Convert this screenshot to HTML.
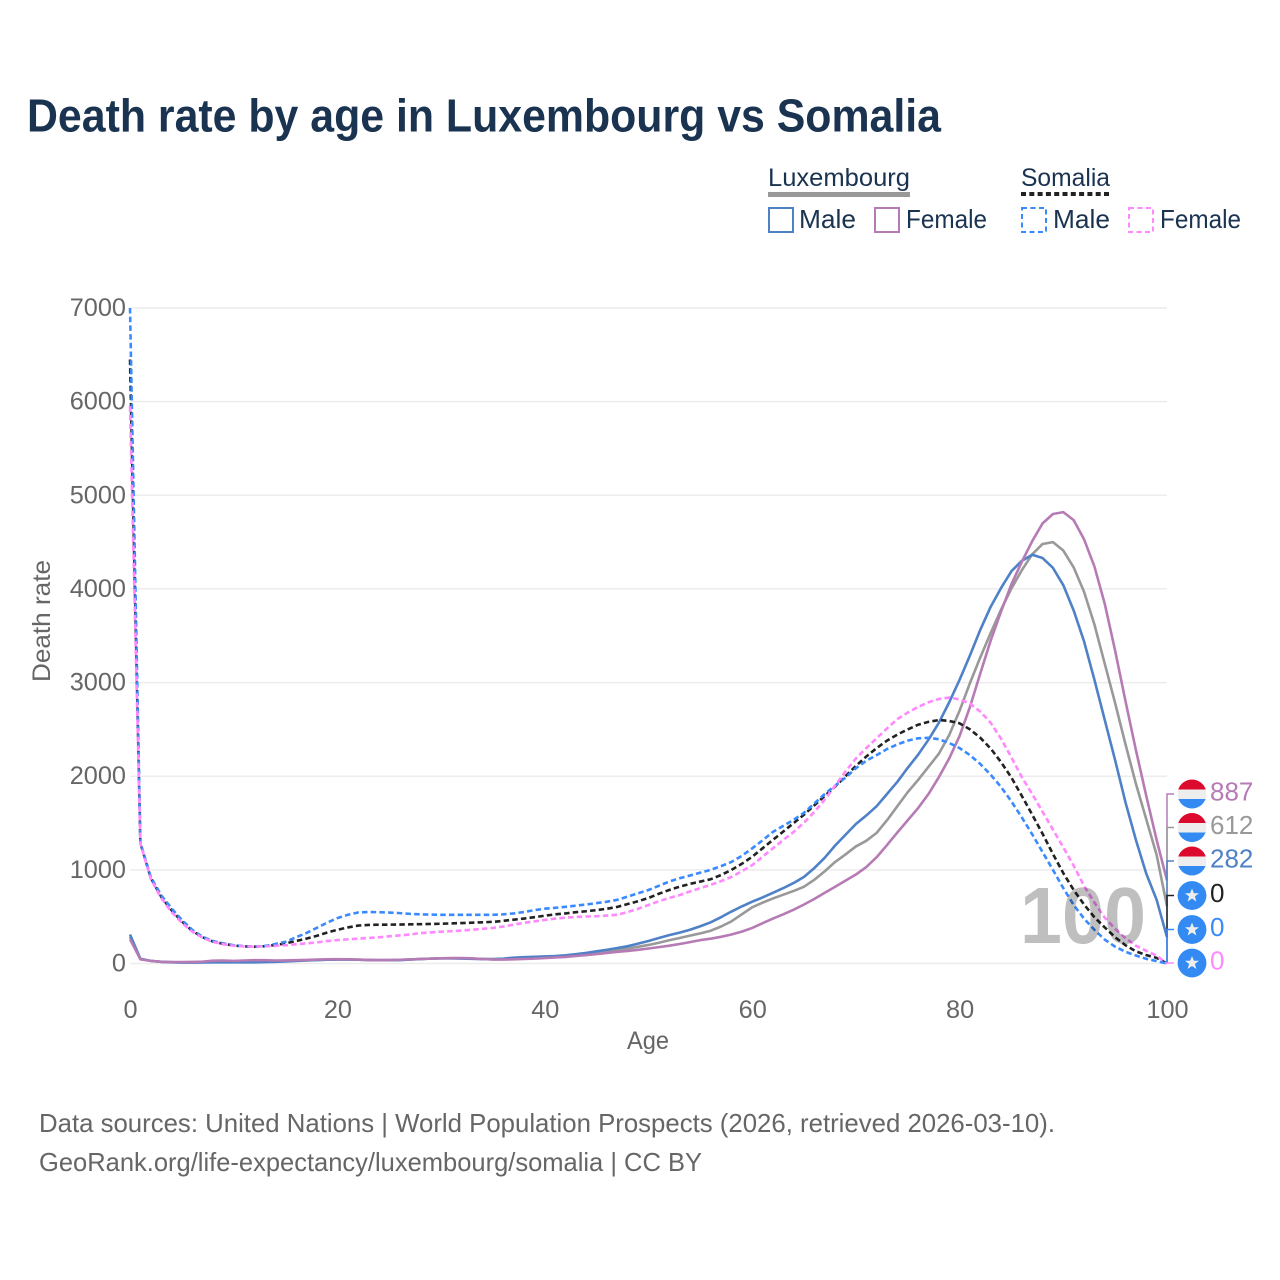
<!DOCTYPE html>
<html lang="en">
<head>
<meta charset="utf-8">
<title>Death rate by age in Luxembourg vs Somalia</title>
<style>
html,body{margin:0;padding:0;background:#fff;width:1280px;height:1280px;overflow:hidden}
svg{display:block}
text{font-family:"Liberation Sans",sans-serif}
</style>
</head>
<body>
<svg id="chart" width="1280" height="1280" viewBox="0 0 1280 1280" xmlns="http://www.w3.org/2000/svg">
<rect width="1280" height="1280" fill="#fff"/>
<text x="27" y="131.5" font-size="46" font-weight="700" fill="#1a3350" textLength="914" lengthAdjust="spacingAndGlyphs">Death rate by age in Luxembourg vs Somalia</text>

<g>
<text x="768" y="186" font-size="25" fill="#1a3350" textLength="142" lengthAdjust="spacingAndGlyphs">Luxembourg</text>
<rect x="768" y="192" width="142" height="5" fill="#999"/>
<text x="1021" y="186" font-size="25" fill="#1a3350" textLength="89" lengthAdjust="spacingAndGlyphs">Somalia</text>
<line x1="1021" y1="194" x2="1110" y2="194" stroke="#222" stroke-width="4" stroke-dasharray="5 3.3"/>
<g>
<rect x="769" y="208" width="24" height="24" fill="none" stroke="#4f81c7" stroke-width="2"/>
<text x="799" y="228" font-size="26" fill="#1a3350" textLength="57" lengthAdjust="spacingAndGlyphs">Male</text>
</g>
<g>
<rect x="875" y="208" width="24" height="24" fill="none" stroke="#b67bb5" stroke-width="2"/>
<text x="906" y="228" font-size="26" fill="#1a3350" textLength="81" lengthAdjust="spacingAndGlyphs">Female</text>
</g>
<g>
<rect x="1022" y="208" width="24" height="24" fill="none" stroke="#3a8aff" stroke-width="2" stroke-dasharray="5 3.5"/>
<text x="1053" y="228" font-size="26" fill="#1a3350" textLength="57" lengthAdjust="spacingAndGlyphs">Male</text>
</g>
<g>
<rect x="1129" y="208" width="24" height="24" fill="none" stroke="#ff88ff" stroke-width="2" stroke-dasharray="5 3.5"/>
<text x="1160" y="228" font-size="26" fill="#1a3350" textLength="81" lengthAdjust="spacingAndGlyphs">Female</text>
</g>
</g>

<g id="grid"></g>
<g id="yticks"></g>
<g id="xticks"></g>
<g id="series"></g>
<text x="1083" y="943" font-size="80" font-weight="700" fill="#000" fill-opacity="0.25" text-anchor="middle" textLength="126" lengthAdjust="spacingAndGlyphs">100</text>
<g id="endlabels"></g>

<text transform="translate(50 621) rotate(-90)" font-size="25" fill="#666" text-anchor="middle" textLength="122" lengthAdjust="spacingAndGlyphs">Death rate</text>
<text x="648" y="1049" font-size="25" fill="#666" text-anchor="middle" textLength="42" lengthAdjust="spacingAndGlyphs">Age</text>

<text x="39" y="1132" font-size="26" fill="#666" textLength="1016" lengthAdjust="spacingAndGlyphs">Data sources: United Nations | World Population Prospects (2026, retrieved 2026-03-10).</text>
<text x="39" y="1171" font-size="26" fill="#666" textLength="663" lengthAdjust="spacingAndGlyphs">GeoRank.org/life-expectancy/luxembourg/somalia | CC BY</text>
</svg>

<script>
const yTickValues = [0, 1000, 2000, 3000, 4000, 5000, 6000, 7000];
const xTickValues = [0, 20, 40, 60, 80, 100];

const luxMale = [
310,50,28,18,13,10,10,11,12,12,
12,12,13,15,18,22,27,32,37,40,
42,42,40,37,35,35,37,42,47,52,
55,55,52,50,47,47,52,62,68,72,
76,80,88,100,113,130,147,165,185,212,
240,272,303,330,360,398,440,495,555,610,
660,705,755,805,860,925,1020,1130,1260,1375,
1490,1580,1680,1810,1940,2090,2230,2390,2570,2790,
3030,3290,3565,3810,4010,4190,4300,4365,4330,4225,
4040,3770,3440,3030,2600,2170,1720,1320,960,680,
282];

const luxAll = [
285,48,28,18,14,12,12,14,20,20,
19,21,23,24,24,26,30,34,38,41,
43,43,41,38,36,36,38,43,48,52,
55,55,55,52,48,45,47,53,58,65,
72,76,82,92,102,115,128,145,160,178,
198,222,248,272,298,322,350,395,450,525,
600,650,695,735,775,820,895,985,1085,1165,
1250,1310,1395,1530,1680,1830,1960,2100,2240,2440,
2700,2995,3270,3530,3780,4005,4200,4370,4480,4500,
4410,4230,3970,3620,3200,2780,2340,1920,1540,1160,
612];

const luxFemale = [
260,45,28,18,15,15,17,20,30,32,
28,32,36,35,32,33,35,38,42,45,
46,45,42,38,36,37,40,44,48,52,
55,58,58,55,48,42,42,44,48,52,
58,64,70,80,90,100,112,124,134,146,
160,175,190,208,228,250,265,285,310,340,
380,430,480,525,575,630,690,755,820,885,
950,1030,1135,1265,1400,1530,1660,1810,1990,2190,
2430,2740,3100,3450,3760,4050,4290,4510,4700,4800,
4820,4735,4530,4240,3840,3340,2800,2280,1790,1320,
887];

const somMale = [
7000,1290,925,730,590,465,360,285,240,215,
195,185,180,187,208,232,280,325,380,435,
485,520,545,550,548,544,538,530,525,522,
520,520,520,520,520,520,525,535,550,570,
585,595,605,618,630,645,660,680,715,750,
785,830,875,910,940,970,1000,1040,1085,1150,
1230,1315,1405,1470,1535,1610,1710,1810,1900,1985,
2085,2165,2225,2290,2340,2380,2405,2410,2395,2355,
2300,2225,2130,2015,1885,1730,1560,1380,1190,1000,
805,625,480,360,255,180,125,85,50,25,
0];

const somAll = [
6450,1285,915,715,570,450,350,280,235,210,
192,183,180,185,198,215,240,265,295,330,
360,385,405,412,415,415,416,418,420,422,
425,428,432,436,440,445,455,468,480,495,
510,525,535,548,558,570,585,605,635,665,
700,745,785,820,850,875,900,945,1000,1065,
1140,1230,1320,1410,1500,1590,1690,1790,1890,2000,
2110,2210,2300,2380,2445,2500,2550,2580,2600,2590,
2565,2500,2410,2295,2150,1985,1790,1590,1385,1170,
965,785,630,495,385,280,195,130,90,60,
0];

const somFemale = [
5950,1280,905,700,550,435,340,275,230,205,
190,182,180,183,188,195,205,215,225,240,
250,258,265,272,280,290,300,310,325,332,
340,345,352,360,370,380,395,415,435,450,
465,480,490,497,502,505,512,520,550,585,
625,665,700,730,770,805,840,880,925,985,
1050,1140,1230,1320,1405,1505,1620,1750,1900,2050,
2190,2300,2405,2510,2610,2680,2740,2790,2825,2840,
2820,2775,2690,2570,2400,2200,1990,1810,1620,1430,
1240,1045,830,650,490,370,270,190,135,85,
0];

const NS = 'http://www.w3.org/2000/svg';
const xScale = function (age) { return 130 + age * (1167 - 130) / 100; };
const yScale = function (v) { return 963.5 - v * (963.5 - 308) / 7000; };
const mk = function (tag, parent) {
  const el = document.createElementNS(NS, tag);
  parent.appendChild(el);
  return el;
};

const gridG = document.getElementById('grid');
const yG = document.getElementById('yticks');
yTickValues.forEach(function (v) {
  const ln = mk('line', gridG);
  ln.setAttribute('x1', 130);
  ln.setAttribute('x2', 1167);
  ln.setAttribute('y1', yScale(v));
  ln.setAttribute('y2', yScale(v));
  ln.setAttribute('stroke', '#ececec');
  ln.setAttribute('stroke-width', 1.5);
  
  
  const t = mk('text', yG);
  t.textContent = v;
  t.setAttribute('x', 126);
  t.setAttribute('y', yScale(v) + 8);
  t.setAttribute('font-size', 25.3);
  t.setAttribute('fill', '#666');
  t.setAttribute('text-anchor', 'end');
  
  
});

const xG = document.getElementById('xticks');
xTickValues.forEach(function (a) {
  const t = mk('text', xG);
  t.textContent = a;
  t.setAttribute('x', xScale(a) + 0.5);
  t.setAttribute('y', 1018);
  t.setAttribute('font-size', 25.3);
  t.setAttribute('fill', '#666');
  t.setAttribute('text-anchor', 'middle');
  
  
});

const pathFor = function (values) {
  return values.map(function (v, i) { return xScale(i).toFixed(2) + ',' + yScale(v).toFixed(2); }).join(' ');
};
const seriesG = document.getElementById('series');
const drawLine = function (values, color, dashed, name) {
  const p = mk('polyline', seriesG);
  p.setAttribute('points', pathFor(values));
  p.setAttribute('fill', 'none');
  p.setAttribute('stroke', color);
  p.setAttribute('stroke-width', 2.6);
  p.setAttribute('stroke-linejoin', 'round');
  if (dashed) p.setAttribute('stroke-dasharray', '5.5 3.2');
  
  
};
drawLine(luxAll, '#999999', false, 'line-luxembourg-all');
drawLine(luxMale, '#4f81c7', false, 'line-luxembourg-male');
drawLine(luxFemale, '#b67bb5', false, 'line-luxembourg-female');
drawLine(somAll, '#222222', true, 'line-somalia-all');
drawLine(somMale, '#3a8aff', true, 'line-somalia-male');
drawLine(somFemale, '#ff88ff', true, 'line-somalia-female');

const endG = document.getElementById('endlabels');
const defs = mk('defs', endG);
const clip = mk('clipPath', defs);
clip.setAttribute('id', 'flag-clip');
const clipC = mk('circle', clip);
clipC.setAttribute('cx', 0);
clipC.setAttribute('cy', 0);
clipC.setAttribute('r', 14.5);

const drawEnd = function (values, color, labelY, isLux, name) {
  const last = values[values.length - 1];
  const connector = mk('polyline', endG);
  connector.setAttribute('points', '1174,' + labelY + ' 1167,' + labelY + ' 1167,' + yScale(last));
  connector.setAttribute('fill', 'none');
  connector.setAttribute('stroke', color);
  connector.setAttribute('stroke-width', 1.5);
  
  

  const flag = mk('g', endG);
  flag.setAttribute('transform', 'translate(1192 ' + labelY + ')');
  flag.setAttribute('clip-path', 'url(#flag-clip)');
  
  
  if (isLux) {
    [['#dc0a2d', -15, 10.5], ['#eeeeee', -4.5, 10], ['#338af3', 5, 10]].forEach(function (b) {
      const r = mk('rect', flag);
      r.setAttribute('x', -15);
      r.setAttribute('y', b[1]);
      r.setAttribute('width', 30);
      r.setAttribute('height', b[2]);
      r.setAttribute('fill', b[0]);
    });
  } else {
    const c = mk('circle', flag);
    c.setAttribute('r', 14.5);
    c.setAttribute('fill', '#338af3');
    const star = mk('polygon', flag);
    star.setAttribute('points', '0,-7 1.9,-2.2 7,-2.2 2.9,0.9 4.4,6 0,3 -4.4,6 -2.9,0.9 -7,-2.2 -1.9,-2.2');
    star.setAttribute('fill', '#eeeeee');
  }

  const t = mk('text', endG);
  t.textContent = last;
  t.setAttribute('x', 1210);
  t.setAttribute('y', labelY + 6.5);
  t.setAttribute('font-size', 26);
  t.setAttribute('fill', color);
  
  
};
drawEnd(luxFemale, '#b67bb5', 794, true, 'end-luxembourg-female');
drawEnd(luxAll, '#999999', 827.5, true, 'end-luxembourg-all');
drawEnd(luxMale, '#4f81c7', 861, true, 'end-luxembourg-male');
drawEnd(somAll, '#222222', 895.5, false, 'end-somalia-all');
drawEnd(somMale, '#3a8aff', 929.5, false, 'end-somalia-male');
drawEnd(somFemale, '#ff88ff', 963, false, 'end-somalia-female');
</script>
</body>
</html>
